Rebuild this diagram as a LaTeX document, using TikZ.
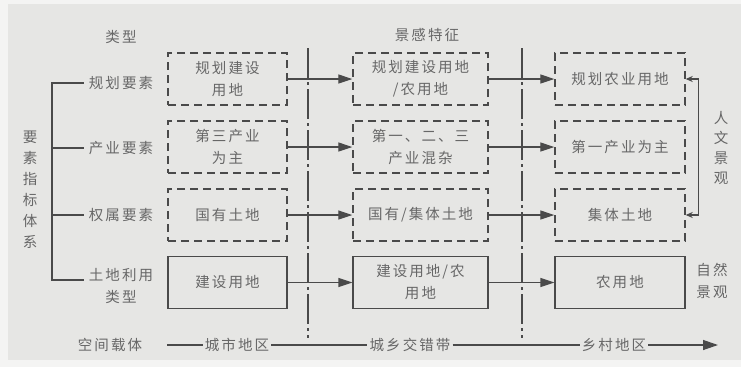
\documentclass[tikz,border=0pt]{standalone}
\usepackage{fontspec}
\setmainfont[LetterSpace=14]{Noto Sans CJK SC}
\usetikzlibrary{arrows.meta,calc}
\definecolor{bgc}{HTML}{E6E6E4}
\definecolor{edgec}{HTML}{F4F4F3}
\definecolor{txt}{HTML}{676767}
\definecolor{ln}{HTML}{4A4A4A}
\tikzset{
  every node/.style={font=\fontsize{14.5}{22}\selectfont, text=txt},
  dbox/.style={draw=ln, line width=1.4pt, dash pattern=on 8pt off 5pt, minimum height=52pt, align=center, inner sep=2pt},
  sbox/.style={draw=ln, line width=1.1pt, minimum height=52pt, align=center, inner sep=2pt},
  w1/.style={minimum width=119pt},
  w2/.style={minimum width=135pt},
  w3/.style={minimum width=130pt},
  conn/.style={draw=ln, line width=1.1pt, -{Triangle[length=14pt,width=9pt]}},
  plain/.style={draw=ln, line width=1.1pt},
  divider/.style={draw=ln, line width=1.5pt, dash pattern=on 30pt off 4pt on 3pt off 4pt},
  lab/.style={inner sep=1pt, align=center},
  axl/.style={inner sep=2pt, fill=bgc}
}
\begin{document}
\begin{tikzpicture}[x=1pt,y=-1pt]
\useasboundingbox (0,0) rectangle (741,367);
\fill[edgec] (0,0) rectangle (741,367);
\fill[bgc] (8,4) rectangle (741,360);

% headers
\node[lab] (h1) at (121,37) {类型};
\node[lab] (h2) at (427,35) {景感特征};

% left vertical label
\node[lab, font=\fontsize{14.5}{21}\selectfont] (sys) at (30,190) {要\\素\\指\\标\\体\\系};

% row labels
\node[lab] (l1) at (121,83) {规划要素};
\node[lab] (l2) at (121,148) {产业要素};
\node[lab] (l3) at (121,215) {权属要素};
\node[lab] (l4) at (121,286) {土地利用\\类型};

% bracket
\coordinate (spine) at (52,0);
\draw[plain] ([xshift=-4pt]l1.west) -- (l1.west -| spine) |- ([xshift=-4pt,yshift=6pt]l4.west);
\draw[plain] ([xshift=-4pt]l2.west) -- (l2.west -| spine);
\draw[plain] ([xshift=-4pt]l3.west) -- (l3.west -| spine);

% column 1
\node[dbox,w1] (a1) at (227.5,79) {规划建设\\用地};
\node[dbox,w1] (a2) at (227.5,147) {第三产业\\为主};
\node[dbox,w1] (a3) at (227.5,215) {国有土地};
\node[sbox,w1] (a4) at (227.5,282.5) {建设用地};

% column 2
\node[dbox,w2] (b1) at (420.5,79) {规划建设用地\\/农用地};
\node[dbox,w2] (b2) at (420.5,147) {第一、二、三\\产业混杂};
\node[dbox,w2] (b3) at (420.5,215) {国有/集体土地};
\node[sbox,w2] (b4) at (420.5,282.5) {建设用地/农\\用地};

% column 3
\node[dbox,w3] (c1) at (620,79) {规划农业用地};
\node[dbox,w3] (c2) at (620,147) {第一产业为主};
\node[dbox,w3] (c3) at (620,215) {集体土地};
\node[sbox,w3] (c4) at (620,282.5) {农用地};

% dividers
\coordinate (v1t) at (308,48); \coordinate (v1b) at (308,338);
\coordinate (v2t) at (522,48); \coordinate (v2b) at (522,338);
\draw[divider] (v1t) -- (v1b);
\draw[divider] (v2t) -- (v2b);

% arrows col1 -> col2
\draw[conn] (a1.east) -- (b1.west);
\draw[conn] (a2.east) -- (b2.west);
\draw[conn] (a3.east) -- (b3.west);
\draw[conn] (a4.east) -- (b4.west);
% arrows col2 -> col3
\draw[conn] (b1.east) -- (c1.west);
\draw[conn] (b2.east) -- (c2.west);
\draw[conn] (b3.east) -- (c3.west);
\draw[conn] (b4.east) -- (c4.west);

% right bracket
\draw[draw=ln, line width=1.1pt, {Stealth[length=7pt,width=6pt]}-{Stealth[length=7pt,width=6pt]}] (c1.east) -- ++(13,0) |- (c3.east);

% right labels
\node[lab, font=\fontsize{14.5}{20}\selectfont] (rh) at (721,148) {人\\文\\景\\观};
\node[lab, font=\fontsize{14.5}{22}\selectfont] (rn) at (712,281) {自然\\景观};

% bottom axis
\node[lab] (ax) at (110,345) {空间载体};
\coordinate (ax0) at (167,345);
\node[axl] (u1) at (237,345) {城市地区};
\node[axl] (u2) at (410,345) {城乡交错带};
\node[axl] (u3) at (614,345) {乡村地区};
\coordinate (ax1) at (718,345);
\draw[plain] (ax0) -- (u1.west);
\draw[plain] (u1.east) -- (u2.west);
\draw[plain] (u2.east) -- (u3.west);
\draw[draw=ln, line width=1.3pt, -{Triangle[length=15pt,width=10pt]}] (u3.east) -- (ax1);
\end{tikzpicture}
\end{document}
